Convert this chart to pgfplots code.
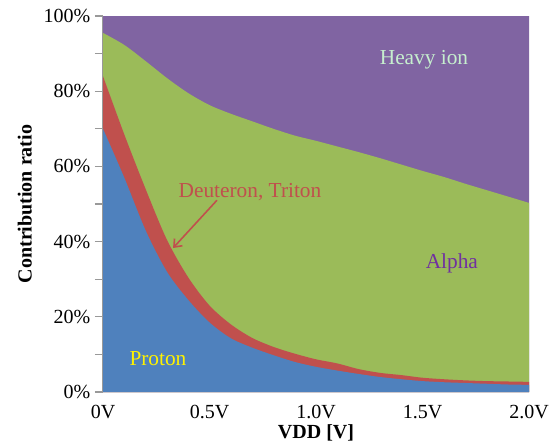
\documentclass[border=0pt]{standalone}
\usepackage{pgfplots}
\pgfplotsset{compat=1.18}
\usepackage{pgfplotstable}
\usepackage{fontspec}
\setmainfont{Liberation Serif}
\usetikzlibrary{calc,arrows.meta}
\definecolor{cblue}{HTML}{4F81BD}
\definecolor{cred}{HTML}{C0504D}
\definecolor{cgreen}{HTML}{9BBB59}
\definecolor{cpurple}{HTML}{8064A2}
\definecolor{ctxtpurple}{HTML}{7030A0}
\definecolor{ctxtgreen}{HTML}{C6EFCE}
% cumulative boundaries (percent)
\pgfplotstableread{
x    proton  red   green heavy
0.0  70.0    84.0  95.5  100
0.1  57.0    68.5  92.3  100
0.2  43.0    54.0  88.0  100
0.3  32.0    40.5  83.5  100
0.4  24.5    30.5  79.5  100
0.5  18.5    23.0  76.3  100
0.6  14.3    18.0  74.0  100
0.7  11.8    14.4  72.0  100
0.8   9.8    12.0  70.0  100
0.9   8.0    10.2  68.2  100
1.0   6.7     8.7  66.8  100
1.1   5.7     7.6  65.3  100
1.2   4.8     6.1  63.8  100
1.3   4.0     5.1  62.2  100
1.4   3.4     4.5  60.5  100
1.5   2.9     3.8  58.8  100
1.6   2.6     3.4  57.2  100
1.7   2.4     3.1  55.4  100
1.8   2.2     2.9  53.7  100
1.9   2.0     2.8  52.0  100
2.0   1.9     2.7  50.3  100
}\datatable
\begin{document}
\begin{tikzpicture}
\begin{axis}[
  scale only axis,
  width=319.5pt, height=282pt,
  xmin=0, xmax=2, ymin=0, ymax=100,
  axis y line*=left, axis x line*=bottom,
  x axis line style={draw=none},
  y axis line style={draw=gray!80, line width=1pt},
  ytick={0,20,40,60,80,100},
  yticklabels={0\%,20\%,40\%,60\%,80\%,100\%},
  minor ytick={10,30,50,70,90},
  xtick={0,0.5,1,1.5,2},
  xticklabels={0V,0.5V,1.0V,1.5V,2.0V},
  tick align=outside,
  ytick pos=left,
  y tick style={draw=gray!80, line width=1pt},
  major tick length=6pt, minor tick length=6pt,
  x tick style={draw=none},
  ticklabel style={font=\fontsize{15}{17}\selectfont},
  xticklabel style={anchor=center, yshift=-9pt},
  xlabel={\textbf{VDD [V]}},
  ylabel={\textbf{Contribution ratio}},
  label style={font=\fontsize{15}{17}\selectfont},
  xlabel style={at={(rel axis cs:0.5,0)}, anchor=center, yshift=-30.5pt},
  ylabel style={yshift=2pt},
  clip=true,
]
\addplot[draw=none, fill=cpurple] table[x=x, y=heavy] {\datatable} \closedcycle;
\addplot[draw=none, fill=cgreen, smooth, tension=0.5] table[x=x, y=green] {\datatable} \closedcycle;
\addplot[draw=none, fill=cred, smooth, tension=0.5] table[x=x, y=red] {\datatable} \closedcycle;
\addplot[draw=none, fill=cblue, smooth, tension=0.5] table[x=x, y=proton] {\datatable} \closedcycle;
\node[font=\fontsize{16}{18}\selectfont, text=ctxtgreen] at (axis cs:1.507,88.3) {Heavy ion};
\node[font=\fontsize{16}{18}\selectfont, text=ctxtpurple] at (axis cs:1.638,34.3) {Alpha};
\node[font=\fontsize{16}{18}\selectfont, text=yellow] at (axis cs:0.258,9) {Proton};
\node[font=\fontsize{16}{18}\selectfont, text=cred] at (axis cs:0.69,53.2) {Deuteron, Triton};
\draw[cred, line width=1.2pt, -{Straight Barb[length=5pt,width=8pt]}] (axis cs:0.535,51) -- (axis cs:0.329,38.3);
\coordinate (O) at (rel axis cs:0,0);
\coordinate (T) at (rel axis cs:1,1);
\end{axis}
\pgfresetboundingbox
\path ($(O)+(-77.25pt,-39pt)$) rectangle ($(T)+(19.5pt,12pt)$);
\end{tikzpicture}
\end{document}
